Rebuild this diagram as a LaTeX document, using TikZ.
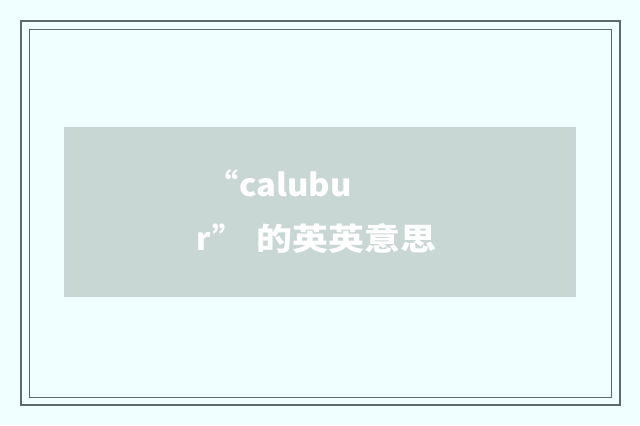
\documentclass[tikz,border=0pt]{standalone}
\usepackage{fontspec}
\usepackage{graphicx}
\newfontfamily\cjk{Noto Sans CJK SC}
\definecolor{bgc}{RGB}{240,255,255}
\definecolor{framec}{RGB}{90,107,106}
\definecolor{boxc}{RGB}{200,214,212}
\tikzset{
  frameouter/.style={draw=framec,line width=2bp},
  frameinner/.style={draw=framec,line width=1bp},
  titletext/.style={text=white,inner sep=0pt,anchor=base west,font=\cjk\bfseries\fontsize{31bp}{37bp}\selectfont}
}
\begin{document}
\begin{tikzpicture}[x=1bp,y=-1bp]
\fill[bgc] (0,0) rectangle (640,425);
\useasboundingbox (0,0) rectangle (640,425);
\draw[frameouter] (21,21) rectangle (620,405);
\draw[frameinner] (29.5,29.5) rectangle (611,397);
\fill[boxc] (64,127) rectangle (576,297);
\node[titletext] (q1) at (207,196) {“};
\node[titletext] (l1) at (239,196) {\scalebox{1.06}[1]{calubu}};
\node[titletext] (r2) at (196,250) {r};
\node[titletext] (q2) at (212,250) {”};
\node[titletext] (c2) at (256,250) {\scalebox{1.16}[1]{的英英意思}};
\end{tikzpicture}
\end{document}
